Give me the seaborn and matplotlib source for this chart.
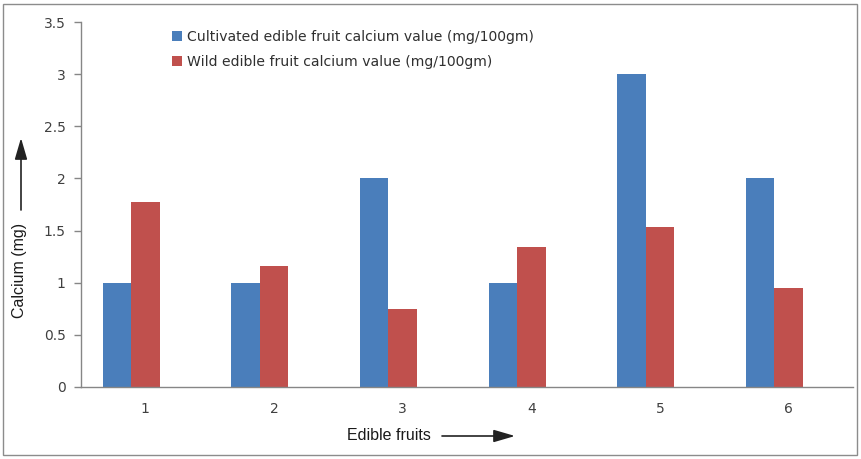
import matplotlib
matplotlib.use("Agg")
import matplotlib.pyplot as plt
import seaborn as sns
import pandas as pd
from matplotlib.patches import Rectangle, FancyArrowPatch

# Calcium content of edible fruits (mg/100gm)
fruits = ["1", "2", "3", "4", "5", "6"]
cultivated = [1.0, 1.0, 2.0, 1.0, 3.0, 2.0]
wild = [1.77, 1.16, 0.75, 1.34, 1.53, 0.95]

series_cult = "Cultivated edible fruit calcium value (mg/100gm)"
series_wild = "Wild edible fruit calcium value (mg/100gm)"
# third, empty slot keeps the bar pair shifted left of the category centre
series_blank = " "

df = pd.DataFrame({
    "fruit": fruits * 2,
    "calcium": cultivated + wild,
    "series": [series_cult] * len(fruits) + [series_wild] * len(fruits),
})

sns.set_style("white")
plt.rcParams["font.family"] = ["DejaVu Sans"]

fig = plt.figure(figsize=(8.61, 4.59), dpi=100)
ax = fig.add_axes([81 / 861, 1 - 387 / 459, (853 - 81) / 861, (387 - 22) / 459])

palette = {series_cult: "#4A7EBB", series_wild: "#C0504D", series_blank: "#FFFFFF"}
sns.barplot(
    data=df, x="fruit", y="calcium", hue="series",
    hue_order=[series_cult, series_wild, series_blank],
    order=fruits, palette=palette, width=0.665, dodge=True,
    saturation=1, edgecolor="none", linewidth=0, ax=ax, legend=True,
)

ax.set_ylim(0, 3.5)
ax.set_xlim(-0.5, 5.5)
ax.set_yticks([0, 0.5, 1, 1.5, 2, 2.5, 3, 3.5])
ax.set_yticklabels(["0", "0.5", "1", "1.5", "2", "2.5", "3", "3.5"])

spine_col = "#868686"
for side in ["top", "right"]:
    ax.spines[side].set_visible(False)
for side in ["left", "bottom"]:
    ax.spines[side].set_color(spine_col)
    ax.spines[side].set_linewidth(1.0)

# category boundary ticks on x, label ticks hidden
ax.set_xticks(range(6))
ax.set_xticklabels(fruits)
ax.set_xticks([i - 0.5 for i in range(7)], minor=True)
ax.tick_params(axis="x", which="major", length=0, pad=11, labelsize=10, labelcolor="#404040")
ax.tick_params(axis="x", which="minor", length=5, color=spine_col, width=1, direction="out")
ax.tick_params(axis="y", length=5, color=spine_col, width=1, direction="out",
               labelsize=10, labelcolor="#404040", pad=6, left=True)

ax.set_xlabel("")
ax.set_ylabel("")

handles, labels = ax.get_legend_handles_labels()
ax.legend(handles[:2], labels[:2], loc="upper left",
          bbox_to_anchor=((166 - 81) / 772, (387 - 24) / 365),
          frameon=False, fontsize=10.1, handlelength=0.75, handleheight=0.75,
          handletextpad=0.35, labelspacing=0.8, labelcolor="#303030",
          borderaxespad=0)

# axis titles with direction arrows
fig.text(20 / 861, 1 - 270 / 459, "Calcium (mg)", rotation=90, ha="center", va="center",
         fontsize=11.5, color="#1a1a1a", family="Liberation Sans")
fig.text(347 / 861, 1 - 436 / 459, "Edible fruits", ha="left", va="center",
         fontsize=11.5, color="#1a1a1a", family="Liberation Sans")

arrow = dict(arrowstyle="-|>,head_length=1.3,head_width=0.38", color="#222222", lw=1.2,
             shrinkA=0, shrinkB=0)
fig.add_artist(FancyArrowPatch(
    (21 / 861, 1 - 210 / 459), (21 / 861, 1 - 138 / 459),
    transform=fig.transFigure, mutation_scale=10, **arrow))
fig.add_artist(FancyArrowPatch(
    (442 / 861, 1 - 436 / 459), (515 / 861, 1 - 436 / 459),
    transform=fig.transFigure, mutation_scale=10, **arrow))

# chart area border
fig.add_artist(Rectangle((3 / 861, 4 / 459), (857 - 3) / 861, (455 - 4) / 459,
                         transform=fig.transFigure, fill=False,
                         edgecolor="#8c8c8c", linewidth=1.0))

fig.savefig("out.png", dpi=100)
